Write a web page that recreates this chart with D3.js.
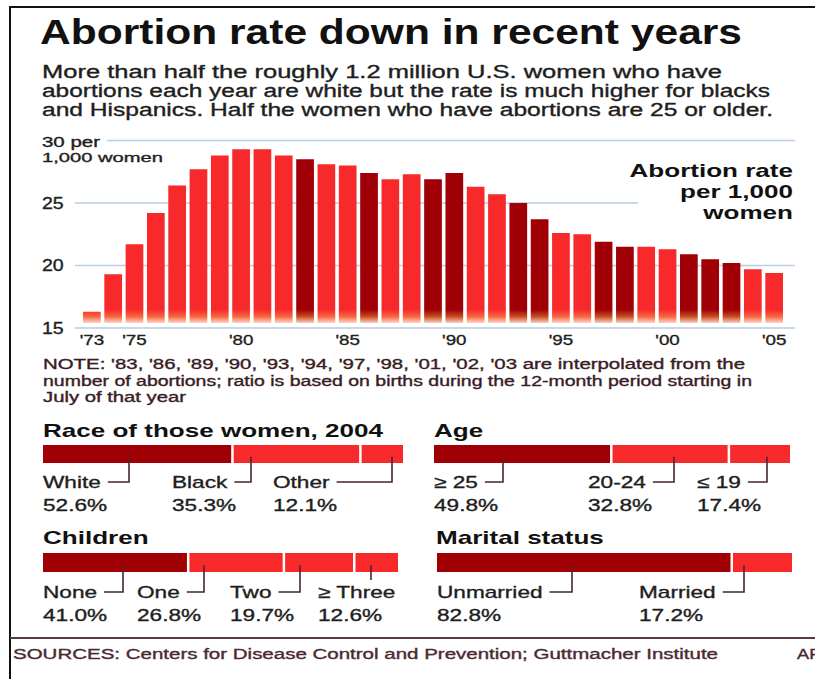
<!DOCTYPE html>
<html><head><meta charset="utf-8">
<script src="https://cdn.jsdelivr.net/npm/d3@7"></script>
<style>
body{margin:0;background:#fff}
svg{display:block}
text{font-family:"Liberation Sans",Arial,Helvetica,sans-serif}
text.reg{stroke-width:0.35px;paint-order:stroke}
</style>
</head><body><svg id="c" width="815" height="679"></svg>
<script>
// ---------- DATA ----------
const years = [1973,1974,1975,1976,1977,1978,1979,1980,1981,1982,1983,1984,1985,1986,1987,1988,1989,1990,1991,1992,1993,1994,1995,1996,1997,1998,1999,2000,2001,2002,2003,2004,2005];
const rates = [16.3,19.3,21.7,24.2,26.4,27.7,28.8,29.3,29.3,28.8,28.5,28.1,28.0,27.4,26.9,27.3,26.9,27.4,26.3,25.7,25.0,23.7,22.6,22.5,21.9,21.5,21.5,21.3,20.9,20.5,20.2,19.7,19.4];
const interpolatedYears = [1983,1986,1989,1990,1993,1994,1997,1998,2001,2002,2003];
const yTicks = [15,20,25,30];
const yTickLabels = ["15","20","25","30 per"];
const xTickYears = [1973,1975,1980,1985,1990,1995,2000,2005];
const xTickLabels = ["'73","'75","'80","'85","'90","'95","'00","'05"];

const raceCategories = ["White","Black","Other"];
const raceValues = [52.6,35.3,12.1];
const ageCategories = ["\u2265 25","20-24","\u2264 19"];
const ageValues = [49.8,32.8,17.4];
const childrenCategories = ["None","One","Two","\u2265 Three"];
const childrenValues = [41.0,26.8,19.7,12.6];
const maritalCategories = ["Unmarried","Married"];
const maritalValues = [82.8,17.2];

const titleText = "Abortion rate down in recent years";
const subtitleLines = ["More than half the roughly 1.2 million U.S. women who have",
  "abortions each year are white but the rate is much higher for blacks",
  "and Hispanics. Half the women who have abortions are 25 or older."];
const rateLabelLines = ["Abortion rate","per 1,000","women"];
const noteLines = ["NOTE: '83, '86, '89, '90, '93, '94, '97, '98, '01, '02, '03 are interpolated from the",
  "number of abortions; ratio is based on births during the 12-month period starting in",
  "July of that year"];
const sourceText = "SOURCES: Centers for Disease Control and Prevention; Guttmacher Institute";

// ---------- STYLE ----------
const LIGHT = "#f8292b", DARK = "#a00005", INK = "#1e1e1e", NOTE_INK = "#3a1c24", LEADER = "#4a2530";
const svg = d3.select("#c");

function stretch(sel, k){ sel.each(function(){ const w=this.getComputedTextLength(); this.setAttribute("textLength", w*k); this.setAttribute("lengthAdjust","spacingAndGlyphs"); }); return sel; }
function fitW(sel, w){ sel.attr("textLength", w).attr("lengthAdjust","spacingAndGlyphs"); return sel; }
function reg(sel, color){ return sel.attr("class","reg").attr("fill",color).attr("stroke",color); }

// frame
svg.append("line").attr("x1",10).attr("x2",815).attr("y1",7).attr("y2",7).attr("stroke","#111").attr("stroke-width",2);
svg.append("line").attr("x1",10).attr("x2",10).attr("y1",6).attr("y2",679).attr("stroke","#111").attr("stroke-width",2);
svg.append("line").attr("x1",10).attr("x2",815).attr("y1",638).attr("y2",638).attr("stroke","#5a3a40").attr("stroke-width",2);

// title
fitW(svg.append("text").attr("x",40).attr("y",44).attr("font-size",35).attr("font-weight","bold").attr("fill","#111").text(titleText), 702);
const subW = [680, 728, 731];
subtitleLines.forEach((t,i)=>{
  fitW(reg(svg.append("text").attr("x",42).attr("y",78+i*19).attr("font-size",18).text(t),INK), subW[i]);
});

// ---------- MAIN CHART ----------
const x = d3.scaleBand().domain(years).range([83,783]).paddingInner(0.17).paddingOuter(0);
const y = d3.scaleLinear().domain([15,30]).range([328,140.5]);

const defs = svg.append("defs");
function grad(id, c, mid){
  const g = defs.append("linearGradient").attr("id",id).attr("gradientUnits","userSpaceOnUse")
    .attr("x1",0).attr("x2",0).attr("y1",305).attr("y2",324);
  g.append("stop").attr("offset",0).attr("stop-color",c);
  g.append("stop").attr("offset",0.25).attr("stop-color",c);
  g.append("stop").attr("offset",0.6).attr("stop-color",mid);
  g.append("stop").attr("offset",1).attr("stop-color","#fde6de");
}
grad("gl", LIGHT, "#f7643e");
grad("gd", DARK, "#c84a1e");

// gridlines (x extents are layout)
const gridExtent = {15:[75,795],20:[75,795],25:[75,638],30:[107,795]};
svg.append("g").selectAll("line").data(yTicks).join("line")
  .attr("x1",d=>gridExtent[d][0]).attr("x2",d=>gridExtent[d][1])
  .attr("y1",d=>y(d)).attr("y2",d=>y(d))
  .attr("stroke","#b9cde2").attr("stroke-width",1.6);

// y labels
yTicks.forEach((d,i)=>{
  if(d===30){
    fitW(reg(svg.append("text").attr("x",42).attr("y",y(d)+6).attr("font-size",14).text(yTickLabels[i]),INK),58);
    fitW(reg(svg.append("text").attr("x",42).attr("y",y(d)+21.5).attr("font-size",13.5).text("1,000 women"),INK),121);
  } else {
    stretch(reg(svg.append("text").attr("x",42).attr("y",y(d)).attr("dy","0.36em").attr("font-size",16).text(yTickLabels[i]),INK),1.22);
  }
});

// bars
const bottomGap = 5;
svg.append("g").selectAll("rect").data(years).join("rect")
  .attr("x",d=>x(d)).attr("width",x.bandwidth())
  .attr("y",(d,i)=>y(rates[i]))
  .attr("height",(d,i)=>y(15)-bottomGap-y(rates[i]))
  .attr("fill",d=>interpolatedYears.includes(d)?"url(#gd)":"url(#gl)");

// x axis
const xAxis = d3.axisBottom(x).tickValues(xTickYears).tickSize(0)
  .tickFormat(d=>xTickLabels[xTickYears.indexOf(d)]);
const gx = svg.append("g").attr("transform",`translate(0,${y(15)+3})`).call(xAxis);
gx.select(".domain").remove();
gx.selectAll("text").attr("font-size",15).attr("font-family",null).attr("dy","0.71em");
reg(gx.selectAll("text"),INK);
stretch(gx.selectAll("text"),1.25);

// rate label
rateLabelLines.forEach((t,i)=>{
  stretch(svg.append("text").attr("x",793).attr("y",177+i*21).attr("text-anchor","end")
    .attr("font-size",19).attr("font-weight","bold").attr("fill","#111").text(t),1.37);
});

// note
const noteW = [702, 709, 143];
noteLines.forEach((t,i)=>{
  fitW(reg(svg.append("text").attr("x",43).attr("y",369+i*16.5).attr("font-size",14).text(t),NOTE_INK), noteW[i]);
});

// ---------- PANELS ----------
function panel(cfg){
  const g = svg.append("g");
  stretch(g.append("text").attr("x",cfg.tx).attr("y",cfg.ty).attr("font-size",19).attr("font-weight","bold").attr("fill","#111").text(cfg.title),1.37);
  const gap = 2.5;
  const total = d3.sum(cfg.values);
  const s = d3.scaleLinear().domain([0,total]).range([cfg.x0, cfg.x1+gap]);
  const cum = d3.cumsum(cfg.values);
  const starts = cfg.values.map((v,i)=>i? cum[i-1]:0);
  g.selectAll("rect").data(cfg.values).join("rect")
    .attr("x",(d,i)=>s(starts[i])).attr("width",(d,i)=>s(cum[i])-s(starts[i])-gap)
    .attr("y",cfg.by).attr("height",cfg.bh)
    .attr("fill",(d,i)=>i===0?DARK:LIGHT);
  cfg.categories.forEach((c,i)=>{
    const lab = reg(g.append("text").attr("x",cfg.lx[i]).attr("y",cfg.ly).attr("font-size",17).text(c),INK);
    stretch(lab,1.33);
    stretch(reg(g.append("text").attr("x",cfg.lx[i]).attr("y",cfg.ly+23).attr("font-size",17).text(d3.format(".1f")(cfg.values[i])+"%"),INK),1.33);
    const w = +lab.attr("textLength");
    const lxEnd = cfg.lx[i]+w;
    const ax = cfg.ax[i];
    const top = cfg.by + cfg.bh*0.65;
    let p;
    if(ax > cfg.lx[i] && ax < lxEnd){ p = `M${ax},${top}V${cfg.ly-18}`; }
    else { p = `M${ax},${top}V${cfg.ly-6}H${lxEnd+7}`; }
    g.append("path").attr("d",p).attr("fill","none").attr("stroke",LEADER).attr("stroke-width",1.6);
  });
}
panel({title:"Race of those women, 2004",tx:43,ty:437,x0:43,x1:403,by:445,bh:18,
  categories:raceCategories,values:raceValues,lx:[43,172,273],ax:[129,251,392],ly:488});
panel({title:"Age",tx:434,ty:437,x0:434,x1:790,by:445,bh:18,
  categories:ageCategories,values:ageValues,lx:[434,588,697],ax:[503,674,767],ly:488});
panel({title:"Children",tx:43,ty:544,x0:43,x1:398,by:553,bh:19,
  categories:childrenCategories,values:childrenValues,lx:[43,137,230,318],ax:[123,204,300,371],ly:598});
panel({title:"Marital status",tx:436,ty:544,x0:437,x1:792,by:553,bh:19,
  categories:maritalCategories,values:maritalValues,lx:[437,639],ax:[572,744],ly:598});

// sources
fitW(reg(svg.append("text").attr("x",13).attr("y",659).attr("font-size",14).text(sourceText),"#4a2a30"),705);
stretch(reg(svg.append("text").attr("x",797).attr("y",659).attr("font-size",14).text("AP"),"#4a2a30"),1.3);
</script>
</body></html>
